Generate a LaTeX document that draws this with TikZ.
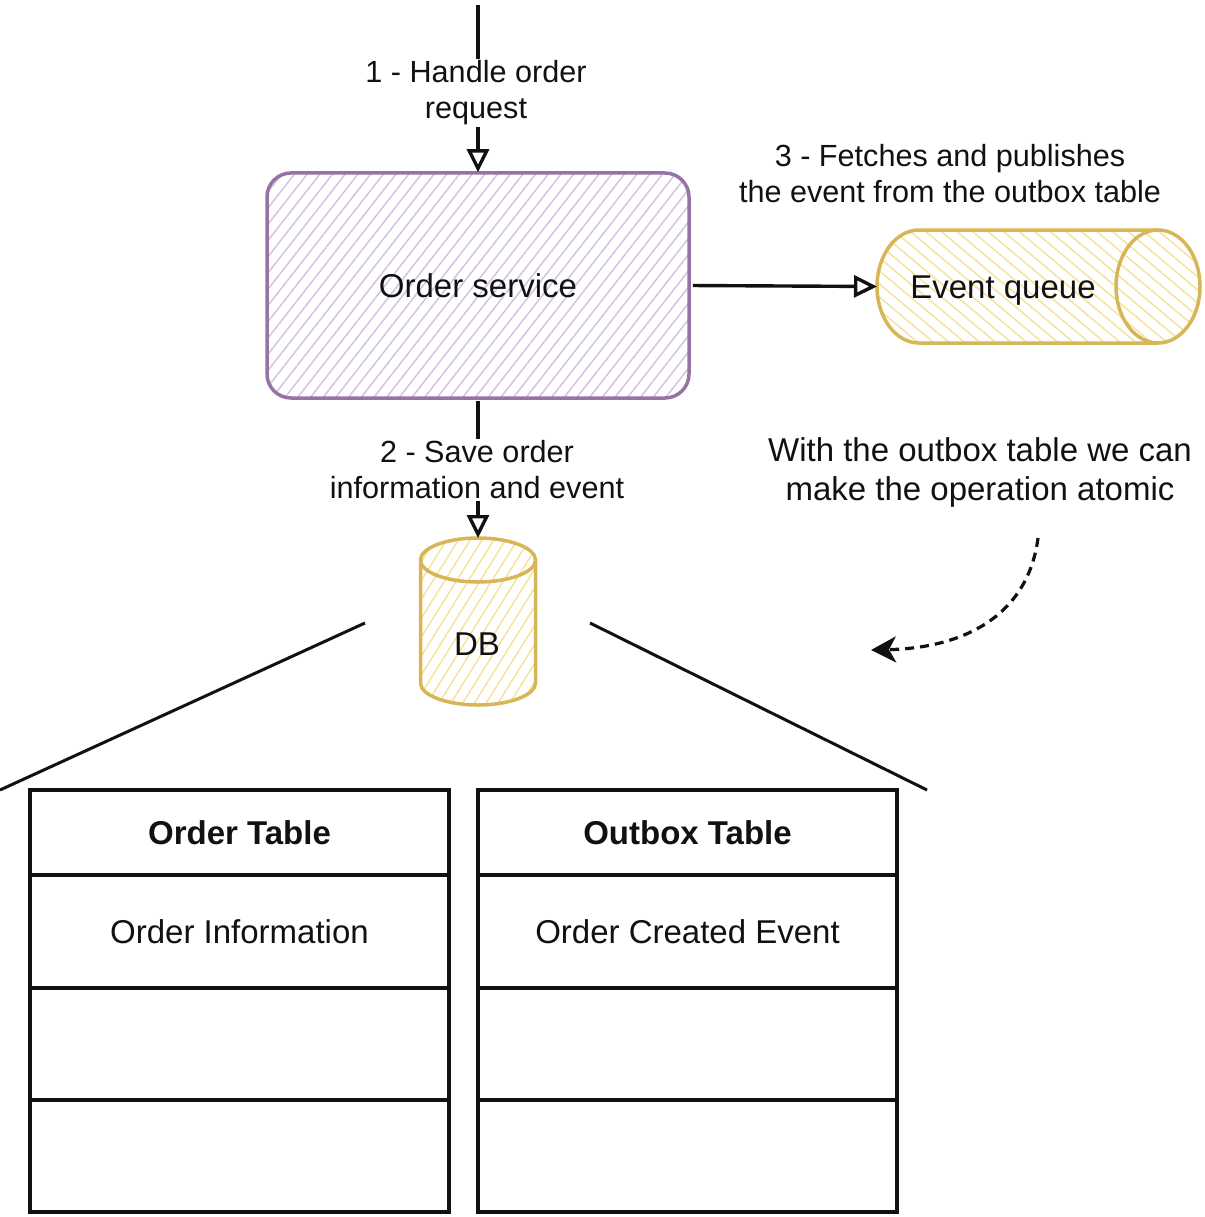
\documentclass[tikz,border=0pt]{standalone}
\usepackage{fontspec}
\setmainfont{Liberation Sans}
\usetikzlibrary{arrows.meta,patterns.meta}
\definecolor{purpS}{HTML}{9673A6}
\definecolor{purpH}{HTML}{D4C2E0}
\definecolor{yelS}{HTML}{D6B656}
\definecolor{yelH}{HTML}{F6E29C}
\definecolor{ink}{HTML}{111111}
\begin{document}
\begin{tikzpicture}[x=1pt,y=-1pt,
  big/.style={font=\fontsize{33}{39}\selectfont, text=ink, align=center},
  bigb/.style={font=\fontsize{33}{39}\selectfont\bfseries, text=ink},
  lbl/.style={font=\fontsize{30.6}{36}\selectfont, text=ink, align=center, inner sep=2pt},
  svc/.style={draw=purpS, line width=3.5pt, rounded corners=24pt, minimum width=422pt, minimum height=225pt,
    pattern={Lines[angle=52,distance=10pt,line width=1.5pt]}, pattern color=purpH, big},
  yelshape/.style={draw=yelS, line width=3.5pt, line join=round,
    pattern={Lines[angle=#1,distance=10pt,line width=1.5pt]}, pattern color=yelH},
  ghost/.style={inner sep=0pt, outer sep=0pt},
  conn/.style={draw=ink, line width=3.4pt, -{Triangle[open,length=23pt,width=22pt]}},
  dashconn/.style={draw=ink, line width=3.2pt, dash pattern=on 9pt off 6pt, -{Stealth[length=25pt,width=26pt,inset=7pt]}},
  zline/.style={draw=ink, line width=3pt},
  trow/.style={draw=ink, line width=3.5pt, minimum width=419pt, inner sep=0pt, big},
]
\useasboundingbox (0,0) rectangle (1204,1217);

% Order service
\node[svc] (os) at (478,285.5) {Order service};

% Event queue (horizontal cylinder)
\node[ghost, minimum width=323pt, minimum height=113pt] (eq) at (1038.5,286.5) {};
\path[yelshape=-40] (919,230) -- (1158,230)
   arc[start angle=90, end angle=-90, x radius=42pt, y radius=56.5pt]
   -- (919,343)
   arc[start angle=270, end angle=90, x radius=42pt, y radius=56.5pt] -- cycle;
\draw[draw=yelS, line width=3.5pt] (1158,230)
   arc[start angle=90, end angle=270, x radius=42pt, y radius=56.5pt];
\node[big] (eqt) at (1003,291) {Event queue};

% DB (vertical cylinder)
\node[ghost, minimum width=115pt, minimum height=167pt] (db) at (478,621.5) {};
\path[yelshape=58] (420.5,560) -- (420.5,683)
   arc[start angle=180, end angle=360, x radius=57.5pt, y radius=22pt]
   -- (535.5,560)
   arc[start angle=0, end angle=180, x radius=57.5pt, y radius=22pt] -- cycle;
\draw[draw=yelS, line width=3.5pt] (420.5,560)
   arc[start angle=180, end angle=360, x radius=57.5pt, y radius=22pt];
\node[big] (dbt) at (477,644) {DB};

% Connectors
\coordinate (topin) at (478,5);
\draw[conn] (topin) -- (os.north);
\node[lbl, fill=white] (l1) at (476,93) {1 - Handle order\\request};

\draw[conn, shorten <=3pt] (os.east) -- (eq.west);
\node[lbl] (l3) at (950,174) {3 - Fetches and publishes\\the event from the outbox table};

\draw[conn, shorten <=2pt] (os.south) -- (db.north);
\node[lbl, fill=white] (l2) at (477,470) {2 - Save order\\information and event};

\node[big] (note) at (980,472) {With the outbox table we can\\make the operation atomic};
\coordinate (ds) at (1038,538);
\coordinate (de) at (871,650);
\draw[dashconn] (ds) .. controls (1028,615) and (965,648) .. (de);

% Zoom lines
\coordinate (zl1) at (365,623);
\coordinate (zl2) at (0,790);
\coordinate (zr1) at (590,623);
\coordinate (zr2) at (927,790);
\draw[zline] (zl1) -- (zl2);
\draw[zline] (zr1) -- (zr2);

% Order Table
\node[trow, minimum height=85pt, bigb] (ot0) at (239.5,832.5) {Order Table};
\node[trow, minimum height=113pt] (ot1) at (239.5,931.5) {Order Information};
\node[trow, minimum height=112pt] (ot2) at (239.5,1044) {};
\node[trow, minimum height=112pt] (ot3) at (239.5,1156) {};

% Outbox Table
\node[trow, minimum height=85pt, bigb] (xt0) at (687.5,832.5) {Outbox Table};
\node[trow, minimum height=113pt] (xt1) at (687.5,931.5) {Order Created Event};
\node[trow, minimum height=112pt] (xt2) at (687.5,1044) {};
\node[trow, minimum height=112pt] (xt3) at (687.5,1156) {};
\end{tikzpicture}
\end{document}
